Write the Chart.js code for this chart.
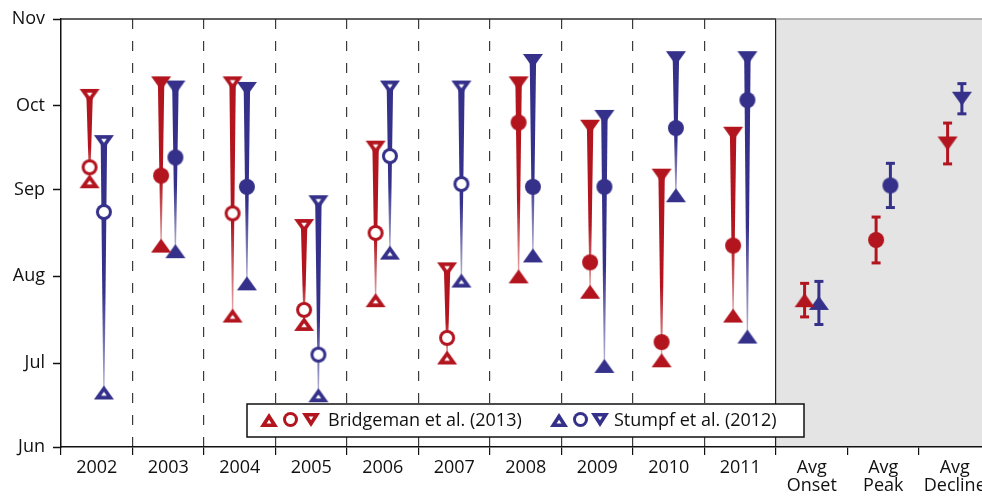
<!DOCTYPE html>
<html>
<head>
<meta charset="utf-8">
<script src="https://cdn.jsdelivr.net/npm/chart.js@4.4.1/dist/chart.umd.min.js"></script>
<style>
  html, body { margin: 0; background: #fff; }
</style>
</head>
<body>
<canvas id="c" width="982" height="496"></canvas>
<script>
// categories and axis labels
const years = ['2002', '2003', '2004', '2005', '2006', '2007', '2008', '2009', '2010', '2011'];
const xLabels = years.concat([['Avg', 'Onset'], ['Avg', 'Peak'], ['Avg', 'Decline']]);
const monthDays = [152, 182, 213, 244, 274, 305];   // day of year, 1st of month
const monthNames = ['Jun', 'Jul', 'Aug', 'Sep', 'Oct', 'Nov'];

// Bridgeman et al. (2013), day of year
const bridgeOnset   = [247, 224, 199, 196, 204.5, 184, 213, 207.5, 183, 199];
const bridgePeak    = [252, 249, 235.5, 201, 228.5, 191, 268, 218, 189.5, 224];
const bridgeDecline = [277.5, 282, 282, 231, 259, 215.5, 282, 266.5, 249, 264];
const bridgeOpen    = [true, false, true, true, true, true, false, false, false, false];

// Stumpf et al. (2012), day of year
const stumpfOnset   = [171.5, 222, 210.5, 170.5, 221.5, 211.5, 220.5, 181, 242, 191.5];
const stumpfPeak    = [236, 255.5, 245, 185, 256, 246, 245, 245, 266, 276];
const stumpfDecline = [261, 280.5, 280, 239.5, 280.5, 280.5, 290, 270, 291, 291];
const stumpfOpen    = [true, false, false, true, true, true, false, false, false, false];

// averages (onset, peak, decline) and error bar half-widths
const bridgeAvg    = [204.5, 226, 260.5];
const bridgeAvgErr = [6, 8.2, 7.3];
const stumpfAvg    = [203.5, 245.5, 276.5];
const stumpfAvgErr = [7.7, 7.9, 5.4];

const RED = '#b3151f', BLUE = '#35318a';
const RED_FADE = 'rgba(179,21,31,0.35)', BLUE_FADE = 'rgba(53,49,138,0.35)';
const OFF = 0.1;   // side shift of each series inside a column
const FONT = '"Open Sans", "Noto Sans", sans-serif';

function poly(g, P) {
  g.beginPath(); g.moveTo(P[0][0], P[0][1]);
  for (let i = 1; i < P.length; i++) g.lineTo(P[i][0], P[i][1]);
  g.closePath(); g.fill();
}

// marker images: filled or open triangles / circles
function marker(shape, color, open, w, h, t) {
  const c = document.createElement('canvas');
  c.width = w + 2; c.height = h + 2;
  const g = c.getContext('2d');
  g.fillStyle = color;
  if (shape === 'circle') {
    const r = w / 2;
    g.beginPath(); g.arc(c.width / 2, c.height / 2, r, 0, 2 * Math.PI); g.fill();
    if (open) { g.fillStyle = '#fff'; g.beginPath(); g.arc(c.width / 2, c.height / 2, r - t, 0, 2 * Math.PI); g.fill(); }
    return c;
  }
  const P = shape === 'up'
    ? [[1 + w / 2, 1], [1 + w, 1 + h], [1, 1 + h]]
    : [[1, 1], [1 + w, 1], [1 + w / 2, 1 + h]];
  poly(g, P);
  if (open) {
    const d = (p, q) => Math.hypot(p[0] - q[0], p[1] - q[1]);
    const a = d(P[1], P[2]), b = d(P[0], P[2]), cc = d(P[0], P[1]), s = a + b + cc;
    const I = [(a * P[0][0] + b * P[1][0] + cc * P[2][0]) / s, (a * P[0][1] + b * P[1][1] + cc * P[2][1]) / s];
    const r = w * h / s, k = Math.max(0, (r - t) / r);
    g.fillStyle = '#fff';
    poly(g, P.map(p => [I[0] + k * (p[0] - I[0]), I[1] + k * (p[1] - I[1])]));
  }
  return c;
}

function set(color, w, h, cw, t) {
  return {
    up: marker('up', color, false, w, h), upO: marker('up', color, true, w, h, t),
    dn: marker('down', color, false, w, h), dnO: marker('down', color, true, w, h, t),
    ci: marker('circle', color, false, cw, cw), ciO: marker('circle', color, true, cw, cw, 3)
  };
}
const MR = set(RED, 20, 14, 16, 3.7), MB = set(BLUE, 20, 14, 16, 3.7);
const LR = set(RED, 18, 14, 15, 3.6), LB = set(BLUE, 18, 14, 15, 3.6);

function pts(vals, shift) { return vals.map((v, i) => ({ x: i + 0.5 + shift, y: v })); }

function markerSet(label, vals, shift, open, filledImg, openImg) {
  return {
    label: label, data: pts(vals, shift), showLine: false, pointRadius: 8, order: 1,
    pointStyle: ctx => open[ctx.dataIndex] ? openImg : filledImg
  };
}

function errSet(avg, err, shift, color) {
  const data = [];
  avg.forEach((v, i) => {
    const x = 10.5 + i + shift;
    data.push({ x: x, y: v - err[i] }, { x: x, y: v + err[i] }, { x: x, y: null });
  });
  return {
    data: data, showLine: true, spanGaps: false, borderColor: color, borderWidth: 3,
    pointStyle: 'line', pointRadius: 4.5, pointBorderWidth: 3, pointBorderColor: color, order: 5
  };
}

function avgSet(avg, shift, M) {
  const imgs = [M.up, M.ci, M.dn];
  return {
    data: avg.map((v, i) => ({ x: 10.5 + i + shift, y: v })), showLine: false,
    pointRadius: 8, pointStyle: ctx => imgs[ctx.dataIndex], order: 1
  };
}

function wedge(ctx, x, yTop, yBot, color, fade) {
  const grad = ctx.createLinearGradient(0, yTop, 0, yBot);
  grad.addColorStop(0, color); grad.addColorStop(0.6, color); grad.addColorStop(1, fade);
  ctx.fillStyle = grad;
  ctx.beginPath();
  ctx.moveTo(x - 3.2, yTop); ctx.lineTo(x + 3.2, yTop);
  ctx.lineTo(x + 0.6, yBot); ctx.lineTo(x - 0.6, yBot);
  ctx.closePath(); ctx.fill();
}

const decor = {
  id: 'decor',
  beforeDraw(chart) {
    const { ctx, chartArea: a, scales: { x } } = chart;
    const xs = x.getPixelForValue(10);
    ctx.save();
    ctx.fillStyle = '#e4e4e4';
    ctx.fillRect(xs, a.top, a.right - xs, a.bottom - a.top);
    ctx.restore();
  },
  beforeDatasetsDraw(chart) {
    const { ctx, chartArea: a, scales: { x, y } } = chart;
    const xs = x.getPixelForValue(10);
    ctx.save();
    ctx.lineWidth = 1.5;
    ctx.strokeStyle = '#2a2a2a';
    ctx.beginPath(); ctx.moveTo(a.left, a.top); ctx.lineTo(xs, a.top); ctx.stroke();
    ctx.strokeStyle = '#9a9a9a';
    ctx.beginPath(); ctx.moveTo(xs, a.top); ctx.lineTo(a.right, a.top); ctx.stroke();
    years.forEach((yr, i) => {
      wedge(ctx, x.getPixelForValue(i + 0.5 - OFF), y.getPixelForValue(bridgeDecline[i]),
        y.getPixelForValue(bridgeOnset[i]), RED, RED_FADE);
      wedge(ctx, x.getPixelForValue(i + 0.5 + OFF), y.getPixelForValue(stumpfDecline[i]),
        y.getPixelForValue(stumpfOnset[i]), BLUE, BLUE_FADE);
    });
    ctx.restore();
  },
  afterDraw(chart) {
    const ctx = chart.ctx;
    ctx.save();
    ctx.fillStyle = '#fff'; ctx.strokeStyle = '#111'; ctx.lineWidth = 1.5;
    ctx.fillRect(247, 404, 557, 33); ctx.strokeRect(247, 404, 557, 33);
    const cy = 419.5;
    const put = (img, cx) => ctx.drawImage(img, Math.round(cx - img.width / 2), Math.round(cy - img.height / 2));
    put(LR.upO, 269); put(LR.ciO, 290); put(LR.dnO, 311);
    put(LB.upO, 559); put(LB.ciO, 580); put(LB.dnO, 600);
    ctx.fillStyle = '#111'; ctx.font = '18px ' + FONT; ctx.textBaseline = 'middle'; ctx.textAlign = 'left';
    ctx.fillText('Bridgeman et al. (2013)', 328, cy + 1);
    ctx.fillText('Stumpf et al. (2012)', 614, cy + 1);
    ctx.restore();
  }
};

new Chart(document.getElementById('c'), {
  type: 'scatter',
  data: {
    datasets: [
      errSet(bridgeAvg, bridgeAvgErr, -OFF, RED),
      errSet(stumpfAvg, stumpfAvgErr, OFF, BLUE),
      markerSet('Bridgeman onset', bridgeOnset, -OFF, bridgeOpen, MR.up, MR.upO),
      markerSet('Bridgeman peak', bridgePeak, -OFF, bridgeOpen, MR.ci, MR.ciO),
      markerSet('Bridgeman decline', bridgeDecline, -OFF, bridgeOpen, MR.dn, MR.dnO),
      markerSet('Stumpf onset', stumpfOnset, OFF, stumpfOpen, MB.up, MB.upO),
      markerSet('Stumpf peak', stumpfPeak, OFF, stumpfOpen, MB.ci, MB.ciO),
      markerSet('Stumpf decline', stumpfDecline, OFF, stumpfOpen, MB.dn, MB.dnO),
      avgSet(bridgeAvg, -OFF, MR),
      avgSet(stumpfAvg, OFF, MB)
    ]
  },
  options: {
    responsive: false,
    animation: false,
    layout: { autoPadding: false, padding: { top: 19, right: 0, bottom: 0, left: 0 } },
    plugins: { legend: { display: false }, tooltip: { enabled: false } },
    scales: {
      x: {
        type: 'linear', min: 0, max: 921 / 71.5, offset: false,
        afterBuildTicks: s => { s.ticks = xLabels.map((l, i) => ({ value: i })); },
        afterFit: s => { s.height = 49; s.paddingLeft = 0; s.paddingRight = 0; },
        ticks: {
          autoSkip: false, maxRotation: 0, minRotation: 0, labelOffset: 35.75, padding: 4,
          color: '#111', font: { family: FONT, size: 18, lineHeight: 1 },
          callback: v => xLabels[v]
        },
        grid: {
          offset: false, drawOnChartArea: true, drawTicks: true, tickLength: 8,
          tickColor: '#111', tickWidth: 1.2, lineWidth: 1.2,
          color: c => (c.tick && c.tick.value >= 1 && c.tick.value <= 10) ? (c.tick.value === 10 ? '#222' : '#3a3a3a') : 'rgba(0,0,0,0)'
        },
        border: {
          display: true, color: '#111', width: 1.5,
          dash: c => (c.tick && c.tick.value === 10) ? [] : [10, 12]
        }
      },
      y: {
        type: 'linear', min: 152, max: 305, beginAtZero: false,
        afterBuildTicks: s => { s.ticks = monthDays.map(v => ({ value: v })); },
        afterFit: s => { s.width = 61; s.paddingTop = 0; s.paddingBottom = 0; },
        ticks: {
          padding: 8, color: '#111', font: { family: FONT, size: 18 },
          callback: v => monthNames[monthDays.indexOf(v)]
        },
        grid: { drawOnChartArea: false, drawTicks: true, tickLength: 8, tickColor: '#111', tickWidth: 1.5 },
        border: { display: true, color: '#111', width: 1.5 }
      }
    }
  },
  plugins: [decor]
});
</script>
</body>
</html>
